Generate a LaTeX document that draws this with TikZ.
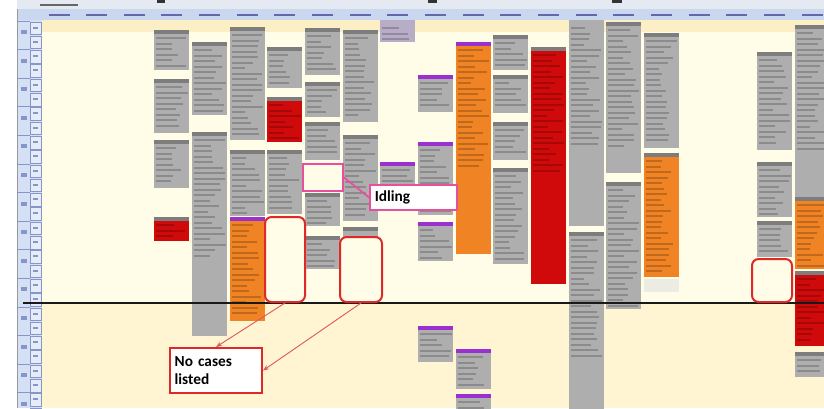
\documentclass[tikz,border=0pt]{standalone}
\usepackage{fontspec}
\setmainfont{Carlito}
\usetikzlibrary{arrows.meta}
\definecolor{cream}{HTML}{FFFDE7}
\definecolor{creamlow}{HTML}{FFF5D3}
\definecolor{toprow}{HTML}{FCEFC6}
\definecolor{gblk}{HTML}{AEAEAE}
\definecolor{ghead}{HTML}{7D7D7D}
\definecolor{phead}{HTML}{9B30D0}
\definecolor{oblk}{HTML}{F08424}
\definecolor{rblk}{HTML}{D00A0A}
\definecolor{lav}{HTML}{B7ADC6}
\definecolor{pale}{HTML}{ECECE2}
\definecolor{lsbg}{HTML}{D6E0F4}
\definecolor{lscell}{HTML}{E6ECF9}
\definecolor{lsdark}{HTML}{8597C8}
\definecolor{hdrbg}{HTML}{C9D7EF}
\definecolor{titlebg}{HTML}{E4E9F2}
\definecolor{callred}{HTML}{E02828}
\definecolor{arrred}{HTML}{E05A5A}
\definecolor{pinkc}{HTML}{E6509C}
\tikzset{
  txt/.style={fill=black, fill opacity=0.2},
  redbox/.style={draw=callred, line width=1.5pt, rounded corners=5pt, fill=cream, inner sep=0pt},
  pinkbox/.style={draw=pinkc, line width=1.5pt, fill=cream, inner sep=0pt},
  labelbox/.style={line width=1.5pt, fill=white, inner ysep=0pt, inner xsep=3.5pt, align=left,
    font=\fontsize{11.5pt}{13pt}\bfseries\selectfont},
  arr/.style={draw=arrred, line width=0.7pt, -{Stealth[length=4.5pt,width=3.5pt]}}
}
\newcommand\schedblk[5]{%
  \pgfmathsetmacro\bxa{41.5+37.65*#1}%
  \pgfmathsetmacro\bxb{\bxa+35}%
  \fill[#4] (\bxa,#2) rectangle (\bxb,#3);
  \fill[#5] (\bxa,#2) rectangle (\bxb,#2+4);
  \pgfmathsetmacro\ta{#2+7}\pgfmathsetmacro\tb{#2+12.5}\pgfmathsetmacro\tc{min(#3-4,#2+125)}%
  \ifdim\tc pt>\tb pt
    \foreach \yy in {\ta,\tb,...,\tc}{\pgfmathsetmacro\ww{13+rnd*19}\fill[txt] (\bxa+2,\yy) rectangle ++(\ww,2);}
  \fi
}
\begin{document}
\begin{tikzpicture}[x=0.75pt,y=-0.75pt]
\pgfmathsetseed{7}
\useasboundingbox (0,0) rectangle (824,408);
\clip (0,0) rectangle (824,408);
\fill[white] (0,0) rectangle (824,408);
% title bar and header row
\fill[titlebg] (17,0) rectangle (824,9);
\fill[black!60] (40,3.5) rectangle (78,5.5);
\fill[black!80] (157,0) rectangle (165,3);
\fill[black!80] (428,0) rectangle (437,3);
\fill[black!80] (612,0) rectangle (622,3);
\fill[hdrbg] (17,9) rectangle (824,20);
\draw[lsdark, line width=0.4pt] (17,20) -- (824,20);
\foreach \c in {0,...,20}{\fill[black!55!blue!60] (41.5+37.65*\c+7,13.5) rectangle ++(21,2.5);}
% backgrounds
\fill[cream] (42,20) rectangle (824,303);
\fill[toprow] (42,20) rectangle (824,32);
\fill[creamlow] (42,303) rectangle (824,408);
% left strip
\fill[lsbg] (17,20) rectangle (42,408);
\draw[black!40, line width=0.5pt] (17,9) -- (17,408);
\foreach \k in {0,...,13}{
  \draw[lsdark, line width=0.6pt] (17,21+28.6*\k) -- (30,21+28.6*\k);
  \fill[lsdark] (21,30+28.6*\k) rectangle (27,34+28.6*\k);}
\foreach \j in {0,...,27}{
  \filldraw[fill=lscell, draw=lsdark, line width=0.3pt] (30.5,21.7+14.3*\j) rectangle (41,34.3+14.3*\j);
  \fill[lsdark] (33,26.5+14.3*\j) rectangle (38,28.5+14.3*\j);}
% schedule blocks
\schedblk{3}{30}{70}{gblk}{ghead}
\schedblk{3}{79}{133}{gblk}{ghead}
\schedblk{3}{140}{188}{gblk}{ghead}
\schedblk{3}{217}{241}{rblk}{ghead}
\schedblk{4}{42}{115}{gblk}{ghead}
\schedblk{4}{132}{336}{gblk}{ghead}
\schedblk{5}{27}{140}{gblk}{ghead}
\schedblk{5}{150}{216}{gblk}{ghead}
\schedblk{5}{217}{321}{oblk}{phead}
\schedblk{6}{47}{88}{gblk}{ghead}
\schedblk{6}{97}{142}{rblk}{ghead}
\schedblk{6}{150}{214}{gblk}{ghead}
\schedblk{7}{28}{75}{gblk}{ghead}
\schedblk{7}{82}{117}{gblk}{ghead}
\schedblk{7}{122}{160}{gblk}{ghead}
\schedblk{7}{193}{226}{gblk}{ghead}
\schedblk{7}{236}{269}{gblk}{ghead}
\schedblk{8}{30}{122}{gblk}{ghead}
\schedblk{8}{135}{221}{gblk}{ghead}
\schedblk{8}{227}{237}{gblk}{ghead}
\schedblk{9}{20}{42}{lav}{lav}
\schedblk{9}{162}{205}{gblk}{phead}
\schedblk{10}{75}{112}{gblk}{phead}
\schedblk{10}{142}{215}{gblk}{phead}
\schedblk{10}{222}{261}{gblk}{phead}
\schedblk{10}{326}{362}{gblk}{phead}
\schedblk{11}{42}{254}{oblk}{phead}
\schedblk{11}{349}{389}{gblk}{phead}
\schedblk{11}{394}{412}{gblk}{phead}
\schedblk{12}{35}{70}{gblk}{ghead}
\schedblk{12}{75}{113}{gblk}{ghead}
\schedblk{12}{122}{160}{gblk}{ghead}
\schedblk{12}{168}{264}{gblk}{ghead}
\schedblk{13}{47}{284}{rblk}{ghead}
\schedblk{14}{20}{226}{gblk}{gblk}
\schedblk{14}{232}{412}{gblk}{ghead}
\schedblk{15}{22}{173}{gblk}{ghead}
\schedblk{15}{182}{309}{gblk}{ghead}
\schedblk{16}{33}{148}{gblk}{ghead}
\schedblk{16}{153}{277}{oblk}{ghead}
\schedblk{16}{279}{292}{pale}{pale}
\schedblk{19}{52}{150}{gblk}{ghead}
\schedblk{19}{162}{217}{gblk}{ghead}
\schedblk{19}{221}{257}{gblk}{ghead}
\schedblk{20}{25}{197}{gblk}{ghead}
\schedblk{20}{197}{269}{oblk}{ghead}
\schedblk{20}{271}{346}{rblk}{ghead}
\schedblk{20}{352}{377}{gblk}{ghead}
% black time line
\draw[line width=2.2pt, black!90] (23,303) -- (824,303);
% callouts
\node[redbox, minimum width=30pt, minimum height=63.75pt] (r1) at (285,259.5) {};
\node[redbox, minimum width=31.5pt, minimum height=48.75pt] (r2) at (361,269.5) {};
\node[redbox, minimum width=30pt, minimum height=32.25pt] (r3) at (772,280.5) {};
\node[pinkbox, minimum width=30pt, minimum height=20.25pt] (idle) at (323,177.5) {};
\node[labelbox, draw=pinkc, text width=58pt, minimum height=18.75pt] (idl) at (413.5,197.5) {Idling};
\draw[pinkc, line width=1.3pt] (idle.east) -- (idl.west);
\node[labelbox, draw=callred, text width=62pt, minimum height=33.75pt] (nc) at (216,370.5) {No cases\\listed};
\draw[arr] (r1.south) -- (nc.north);
\draw[arr] (r2.south) -- (nc.east);
\end{tikzpicture}
\end{document}
